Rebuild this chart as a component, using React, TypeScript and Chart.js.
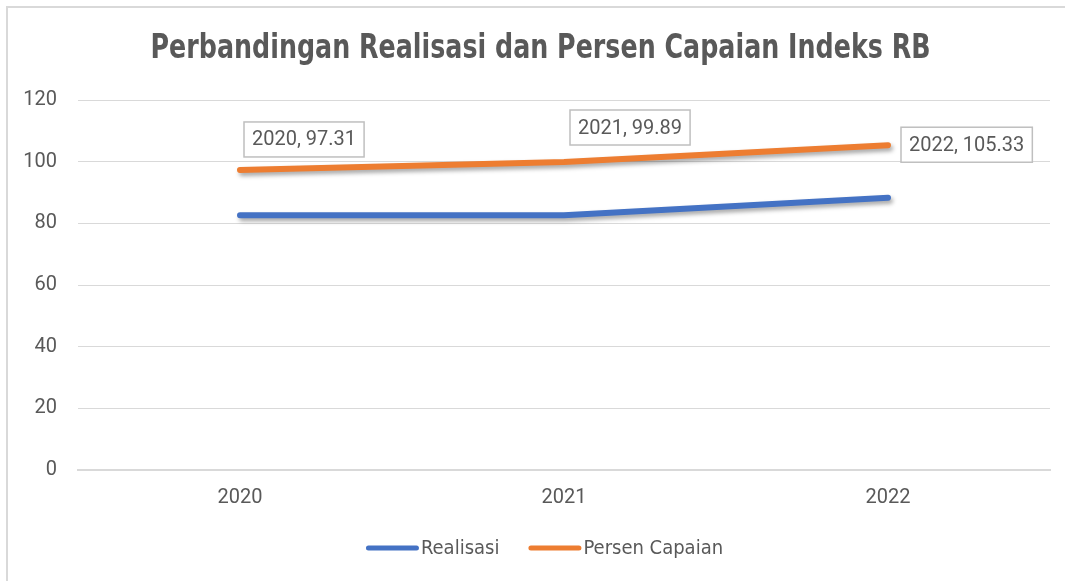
import React, { useEffect, useRef } from "react";
import { Chart, registerables } from "chart.js";

Chart.register(...registerables);

const categories = ["2020", "2021", "2022"];
const realisasi = [82.6, 82.6, 88.3];
const persenCapaian = [97.31, 99.89, 105.33];
const seriesNames = ["Realisasi", "Persen Capaian"];
const seriesColors = ["#4472C4", "#ED7D31"];
const titleText = "Perbandingan Realisasi dan Persen Capaian Indeks RB";

// label box offsets relative to each point (styling only)
const labelOffsets = [
  { dx: 4, dy: -48 },
  { dx: 6, dy: -52 },
  { dx: 13, dy: -18 },
];

const TICK_FONT = "Roboto, 'Open Sans', sans-serif";
const NARROW = "'DejaVu Sans Condensed', 'Liberation Sans Narrow', sans-serif";

const shadowPlugin = {
  id: "lineShadow",
  beforeDatasetDraw(chart: any) {
    const ctx = chart.ctx;
    ctx.save();
    ctx.shadowColor = "rgba(0,0,0,0.35)";
    ctx.shadowBlur = 4;
    ctx.shadowOffsetX = 2;
    ctx.shadowOffsetY = 3;
  },
  afterDatasetDraw(chart: any) {
    chart.ctx.restore();
  },
};

const titlePlugin = {
  id: "narrowTitle",
  afterDraw(chart: any) {
    const ctx = chart.ctx;
    ctx.save();
    ctx.font = `bold 33px ${NARROW}`;
    ctx.fillStyle = "#595959";
    ctx.textBaseline = "middle";
    ctx.textAlign = "center";
    const w = ctx.measureText(titleText).width;
    const target = 780;
    const sx = Math.min(1, target / w);
    const cx = chart.width / 2 + 8;
    ctx.translate(cx, 49);
    ctx.scale(sx, 1);
    ctx.fillText(titleText, 0, 0);
    ctx.restore();
  },
};

const legendPlugin = {
  id: "lineLegend",
  afterDraw(chart: any) {
    const ctx = chart.ctx;
    ctx.save();
    ctx.font = `20px ${NARROW}`;
    ctx.textBaseline = "middle";
    ctx.textAlign = "left";
    const lineLen = 48;
    const gap = 7;
    const itemGap = 29;
    const widths = seriesNames.map((n) => lineLen + gap + ctx.measureText(n).width);
    const total = widths.reduce((a, b) => a + b, 0) + itemGap * (widths.length - 1);
    let x = chart.width / 2 + 12 - total / 2;
    const y = 548;
    seriesNames.forEach((n, i) => {
      ctx.strokeStyle = seriesColors[i];
      ctx.lineWidth = 5;
      ctx.lineCap = "round";
      ctx.beginPath();
      ctx.moveTo(x + 2.5, y);
      ctx.lineTo(x + lineLen + 2.5, y);
      ctx.stroke();
      ctx.fillStyle = "#595959";
      ctx.fillText(n, x + lineLen + gap, y + 1);
      x += widths[i] + itemGap;
    });
    ctx.restore();
  },
};

const labelPlugin = {
  id: "boxLabels",
  afterDatasetsDraw(chart: any) {
    const ctx = chart.ctx;
    const meta = chart.getDatasetMeta(1);
    ctx.save();
    ctx.font = `20px ${TICK_FONT}`;
    ctx.textBaseline = "middle";
    ctx.textAlign = "left";
    meta.data.forEach((pt: any, i: number) => {
      const text = `${categories[i]}, ${persenCapaian[i]}`;
      const w = ctx.measureText(text).width + 16;
      const h = 35;
      const off = labelOffsets[i];
      const left = pt.x + off.dx;
      const top = pt.y + off.dy;
      ctx.fillStyle = "#ffffff";
      ctx.fillRect(left, top, w, h);
      ctx.strokeStyle = "#bfbfbf";
      ctx.lineWidth = 1.5;
      ctx.strokeRect(left, top, w, h);
      ctx.fillStyle = "#595959";
      ctx.fillText(text, left + 8, top + h / 2 + 1);
    });
    ctx.restore();
  },
};

export default function App() {
  const ref = useRef<HTMLCanvasElement | null>(null);

  useEffect(() => {
    if (!ref.current) return;
    const chart = new Chart(ref.current, {
      type: "line",
      data: {
        labels: categories,
        datasets: [
          {
            label: seriesNames[0],
            data: realisasi,
            borderColor: seriesColors[0],
            backgroundColor: seriesColors[0],
            borderWidth: 6,
            borderCapStyle: "round",
            borderJoinStyle: "round",
            pointRadius: 0,
            tension: 0,
          },
          {
            label: seriesNames[1],
            data: persenCapaian,
            borderColor: seriesColors[1],
            backgroundColor: seriesColors[1],
            borderWidth: 6,
            borderCapStyle: "round",
            borderJoinStyle: "round",
            pointRadius: 0,
            tension: 0,
          },
        ],
      },
      options: {
        responsive: false,
        animation: false,
        layout: { padding: { top: 100, left: 8, right: 15, bottom: 55 } },
        plugins: {
          title: { display: false },
          legend: { display: false },
          tooltip: { enabled: false },
        },
        scales: {
          x: {
            offset: true,
            grid: { display: false, drawTicks: false },
            border: { display: true, color: "#d9d9d9", width: 2 },
            ticks: { color: "#595959", font: { family: TICK_FONT, size: 20 }, padding: 16 },
          },
          y: {
            min: 0,
            max: 120,
            ticks: { stepSize: 20, color: "#595959", font: { family: TICK_FONT, size: 20 }, padding: 21 },
            grid: { color: "#d9d9d9", lineWidth: 1, drawTicks: false },
            border: { display: false },
            afterFit(scale: any) {
              scale.width = 70;
            },
          },
        },
      },
      plugins: [shadowPlugin, labelPlugin, titlePlugin, legendPlugin],
    });
    return () => chart.destroy();
  }, []);

  return (
    <div style={{ position: "fixed", left: 0, top: 0, width: 1065, height: 581, overflow: "hidden", background: "#fff" }}>
      <canvas ref={ref} width={1065} height={581} style={{ position: "absolute", left: 0, top: 0 }} />
      <div
        style={{
          position: "absolute",
          left: 6,
          top: 6,
          width: 1200,
          height: 700,
          borderLeft: "2px solid #d9d9d9",
          borderTop: "2px solid #d9d9d9",
          pointerEvents: "none",
        }}
      />
    </div>
  );
}
